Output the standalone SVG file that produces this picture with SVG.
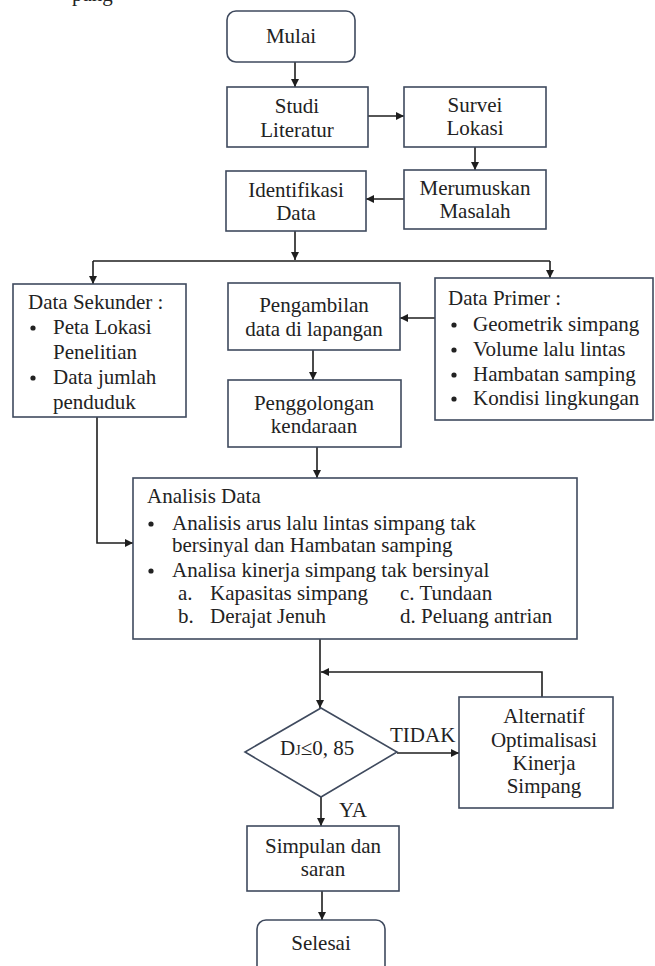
<svg xmlns="http://www.w3.org/2000/svg" width="655" height="966" viewBox="0 0 655 966">
<style>
  .box { fill: #ffffff; stroke: #3f4a5e; stroke-width: 1.6; }
  .t { font-family: "Liberation Serif", "Times New Roman", serif; font-size: 21px; fill: #222222; }
  .c { text-anchor: middle; }
  .ln { fill: none; stroke: #1e1e1e; stroke-width: 1.6; }
</style>
<defs>
  <marker id="arr" markerUnits="userSpaceOnUse" markerWidth="10" markerHeight="10" refX="8" refY="4" orient="auto">
    <path d="M0,0 L8,4 L0,8 z" fill="#1e1e1e"/>
  </marker>
</defs>
<rect width="655" height="966" fill="#ffffff"/>
<text class="t" x="72" y="1">pang</text>

<g id="connectors">
  <path class="ln" d="M295 62 V87" marker-end="url(#arr)"/>
  <path class="ln" d="M368 116 H404" marker-end="url(#arr)"/>
  <path class="ln" d="M475 147 V170" marker-end="url(#arr)"/>
  <path class="ln" d="M404 199 H366" marker-end="url(#arr)"/>
  <path class="ln" d="M295 231 V260" marker-end="url(#arr)"/>
  <path class="ln" d="M93 261 H550"/>
  <path class="ln" d="M93 261 V284" marker-end="url(#arr)"/>
  <path class="ln" d="M550 261 V278" marker-end="url(#arr)"/>
  <path class="ln" d="M435 318 H400" marker-end="url(#arr)"/>
  <path class="ln" d="M313 350 V380" marker-end="url(#arr)"/>
  <path class="ln" d="M317 447 V478" marker-end="url(#arr)"/>
  <path class="ln" d="M97 417 V543 H133" marker-end="url(#arr)"/>
  <path class="ln" d="M320 639 V708" marker-end="url(#arr)"/>
  <path class="ln" d="M542 697 V672 H321" marker-end="url(#arr)"/>
  <path class="ln" d="M397 753 H459" marker-end="url(#arr)"/>
  <path class="ln" d="M321 797 V826" marker-end="url(#arr)"/>
  <path class="ln" d="M322 891 V920" marker-end="url(#arr)"/>
  <text class="t" x="390" y="742">TIDAK</text>
  <text class="t" x="339" y="817">YA</text>
</g>

<g id="mulai">
  <rect class="box" x="227" y="11" width="128" height="51" rx="9"/>
  <text class="t c" x="291" y="43">Mulai</text>
</g>
<g id="studi">
  <rect class="box" x="227" y="87" width="141" height="60"/>
  <text class="t c" x="297" y="113">Studi</text>
  <text class="t c" x="297" y="137">Literatur</text>
</g>
<g id="survei">
  <rect class="box" x="404" y="87" width="142" height="60"/>
  <text class="t c" x="475" y="112">Survei</text>
  <text class="t c" x="475" y="135">Lokasi</text>
</g>
<g id="merumuskan">
  <rect class="box" x="404" y="170" width="142" height="59"/>
  <text class="t c" x="475" y="195">Merumuskan</text>
  <text class="t c" x="475" y="218">Masalah</text>
</g>
<g id="identifikasi">
  <rect class="box" x="226" y="171" width="140" height="60"/>
  <text class="t c" x="296" y="197">Identifikasi</text>
  <text class="t c" x="296" y="220">Data</text>
</g>
<g id="sekunder">
  <rect class="box" x="13" y="284" width="173" height="133"/>
  <text class="t" x="28" y="309">Data Sekunder :</text>
  <circle cx="33" cy="328" r="2.6" fill="#222"/>
  <text class="t" x="53" y="334">Peta Lokasi</text>
  <text class="t" x="53" y="359">Penelitian</text>
  <circle cx="33" cy="378" r="2.6" fill="#222"/>
  <text class="t" x="53" y="384">Data jumlah</text>
  <text class="t" x="53" y="409">penduduk</text>
</g>
<g id="pengambilan">
  <rect class="box" x="228" y="283" width="172" height="67"/>
  <text class="t c" x="314" y="312">Pengambilan</text>
  <text class="t c" x="314" y="336">data di lapangan</text>
</g>
<g id="primer">
  <rect class="box" x="435" y="278" width="218" height="142"/>
  <text class="t" x="448" y="305">Data Primer :</text>
  <circle cx="454" cy="325" r="2.6" fill="#222"/>
  <text class="t" x="473" y="331">Geometrik simpang</text>
  <circle cx="454" cy="350" r="2.6" fill="#222"/>
  <text class="t" x="473" y="356">Volume lalu lintas</text>
  <circle cx="454" cy="375" r="2.6" fill="#222"/>
  <text class="t" x="473" y="381">Hambatan samping</text>
  <circle cx="454" cy="399" r="2.6" fill="#222"/>
  <text class="t" x="473" y="405">Kondisi lingkungan</text>
</g>
<g id="penggolongan">
  <rect class="box" x="228" y="380" width="173" height="67"/>
  <text class="t c" x="314" y="410">Penggolongan</text>
  <text class="t c" x="314" y="433">kendaraan</text>
</g>
<g id="analisis">
  <rect class="box" x="133" y="478" width="444" height="161"/>
  <text class="t" x="147" y="503">Analisis Data</text>
  <circle cx="151" cy="524" r="2.6" fill="#222"/>
  <text class="t" x="172" y="530">Analisis arus lalu lintas simpang tak</text>
  <text class="t" x="172" y="552">bersinyal dan Hambatan samping</text>
  <circle cx="151" cy="571" r="2.6" fill="#222"/>
  <text class="t" x="172" y="577">Analisa kinerja simpang tak bersinyal</text>
  <text class="t" x="178" y="600">a.</text>
  <text class="t" x="210" y="600">Kapasitas simpang</text>
  <text class="t" x="400" y="600">c. Tundaan</text>
  <text class="t" x="178" y="623">b.</text>
  <text class="t" x="210" y="623">Derajat Jenuh</text>
  <text class="t" x="400" y="623">d. Peluang antrian</text>
</g>
<g id="keputusan">
  <polygon class="box" points="321,708 397,752 321,797 245,752"/>
  <text class="t" x="280" y="755">D<tspan font-size="14">J</tspan>≤0, 85</text>
</g>
<g id="alternatif">
  <rect class="box" x="459" y="697" width="154" height="111"/>
  <text class="t c" x="544" y="723">Alternatif</text>
  <text class="t c" x="544" y="747">Optimalisasi</text>
  <text class="t c" x="544" y="770">Kinerja</text>
  <text class="t c" x="544" y="793">Simpang</text>
</g>
<g id="simpulan">
  <rect class="box" x="247" y="826" width="152" height="65"/>
  <text class="t c" x="323" y="853">Simpulan dan</text>
  <text class="t c" x="323" y="876">saran</text>
</g>
<g id="selesai">
  <rect class="box" x="257" y="920" width="128" height="60" rx="9"/>
  <text class="t c" x="321" y="950">Selesai</text>
</g>
</svg>
